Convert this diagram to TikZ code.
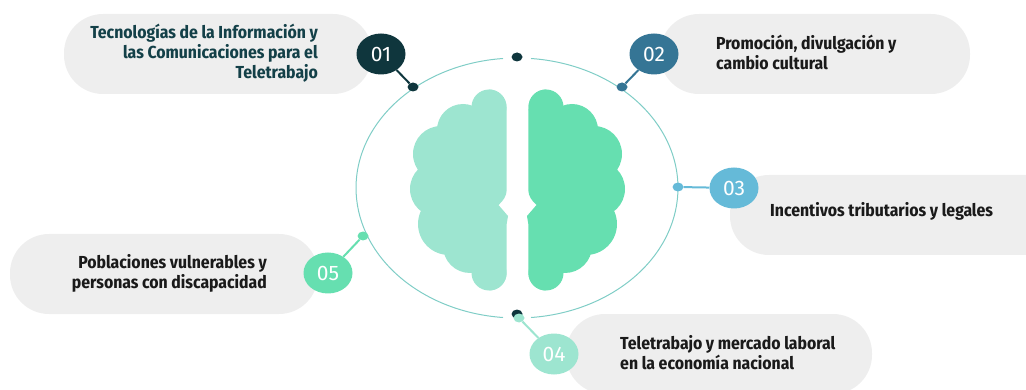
\documentclass[tikz,border=0pt]{standalone}
\usepackage{fontspec}
\setmainfont{Fira Sans}
\newfontfamily\labfont{Fira Sans Condensed}
\usetikzlibrary{shapes.geometric}
\definecolor{pillc}{HTML}{EEEEEE}
\definecolor{ca}{HTML}{0F363D}
\definecolor{cb}{HTML}{357595}
\definecolor{cc}{HTML}{65BAD8}
\definecolor{cd}{HTML}{9DE5D0}
\definecolor{ce}{HTML}{66DFB0}
\definecolor{ringc}{HTML}{7FCDC6}
\definecolor{txta}{HTML}{134048}
\definecolor{txtb}{HTML}{1A1A1A}
\tikzset{
  pill/.style={fill=pillc,draw=none,rounded corners=39pt,minimum height=80pt,inner sep=0pt},
  badge/.style={ellipse,draw=none,inner sep=0pt,minimum width=49pt,minimum height=41pt,text=white,font=\fontsize{21}{21}\selectfont},
  dotn/.style={ellipse,draw=none,inner sep=0pt,minimum width=11pt,minimum height=9pt},
  lab/.style={inner sep=0pt,text=txtb,font=\labfont\bfseries\fontsize{17.4}{20}\selectfont},
  link/.style={line width=2pt},
  ring/.style={draw=ringc,line width=1pt},
  x=1pt,y=-1pt
}
\newcommand{\halfbrain}{%
  \fill (489,89.5) arc[start angle=-90,end angle=0,radius=17.5] -- (506.7,190)
    .. controls (506.7,196) and (503,201) .. (498.5,205) -- (508,216) -- (506.7,224) -- (506.7,273)
    arc[start angle=0,end angle=90,radius=17.5] -- (440,240) -- (430,150) -- cycle;
  \fill (489,107) circle[radius=17.5];
  \fill (489,273) circle[radius=17.5];
  \fill (463,130) circle[radius=26];
  \fill (441,154) circle[radius=28];
  \fill (438,189) circle[radius=28];
  \fill (449,224) circle[radius=31];
  \fill (470,246) circle[radius=27];
}
\begin{document}
\begin{tikzpicture}
\useasboundingbox (0,0) rectangle (1026,390);
\clip (0,0) rectangle (1026,390);
\node[pill,minimum width=308pt] (p1) at (218,54) {};
\node[pill,minimum width=310pt] (p2) at (815,54) {};
\node[pill,minimum width=340pt] (p3) at (900,215) {};
\node[pill,minimum width=306pt] (p4) at (719,354) {};
\node[pill,minimum width=308pt] (p5) at (164,274) {};
% ring
\draw[ring] (531,58.5) arc[start angle=-85,end angle=85,x radius=161,y radius=130];
\draw[ring] (503,58.5) arc[start angle=-95,end angle=-265,x radius=161,y radius=130];
% brain
\begin{scope}[fill=cd]\halfbrain\end{scope}
\begin{scope}[fill=ce,xshift=1035pt,xscale=-1]\halfbrain\end{scope}
% dots
\node[dotn,fill=ca] (d0) at (517,57) {};
\node[dotn,fill=ca] (d1) at (413,87) {};
\node[dotn,fill=cb] (d2) at (622,87) {};
\node[dotn,fill=cc] (d3) at (678,187) {};
\node[dotn,fill=ca] (d6) at (517,314) {};
\node[dotn,fill=cd] (d4) at (519,318) {};
\node[dotn,fill=ce] (d5) at (363,236) {};
% badges
\node[badge,fill=ca] (b1) at (381,54) {01};
\node[badge,fill=cb] (b2) at (654,54) {02};
\node[badge,fill=cc] (b3) at (734,188) {03};
\node[badge,fill=cd] (b4) at (554,354) {04};
\node[badge,fill=ce] (b5) at (328,273) {05};
% connectors
\draw[link,draw=ca] (b1) -- (d1);
\draw[link,draw=cb] (b2) -- (d2);
\draw[link,draw=cc] (b3) -- (d3);
\draw[link,draw=cd] (b4) -- (d4);
\draw[link,draw=ce] (b5) -- (d5);
% labels
\node[lab,text=txta,align=right,anchor=east] (t1) at (318,53) {Tecnologías de la Información y\\las Comunicaciones para el\\Teletrabajo};
\node[lab,align=left,anchor=west] (t2) at (716,52) {Promoción, divulgación y\\cambio cultural};
\node[lab,align=left,anchor=west] (t3) at (770,211) {Incentivos tributarios y legales};
\node[lab,align=left,anchor=west] (t4) at (620,353) {Teletrabajo y mercado laboral\\en la economía nacional};
\node[lab,align=right,anchor=east] (t5) at (267,273) {Poblaciones vulnerables y\\personas con discapacidad};
\end{tikzpicture}
\end{document}
